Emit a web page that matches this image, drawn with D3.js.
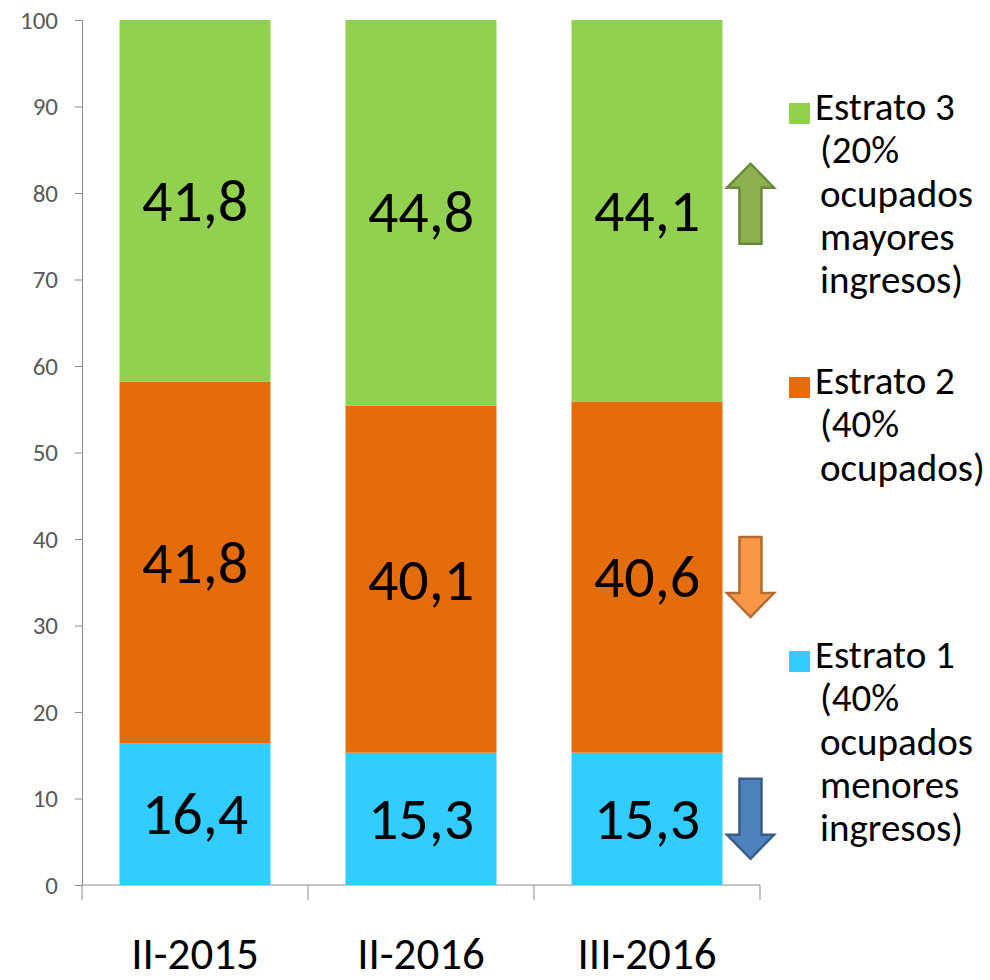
<!DOCTYPE html>
<meta charset="utf-8">
<script src="https://d3js.org/d3.v7.min.js"></script>
<style>
  body { margin: 0; background: #fff; }
  text { font-family: Carlito, Lato, "Open Sans", sans-serif; }
</style>
<div id="chart"></div>
<script>

    // periods on the x axis
    var periods = ["II-2015", "II-2016", "III-2016"];

    // share of each stratum (%)
    var estrato1 = [16.4, 15.3, 15.3];
    var estrato2 = [41.8, 40.1, 40.6];
    var estrato3 = [41.8, 44.8, 44.1];

    var seriesKeys = ["estrato1", "estrato2", "estrato3"];
    var seriesColors = ["#33CCFF", "#E46C0A", "#92D050"];

    // legend, listed top to bottom
    var legendKeys = ["estrato3", "estrato2", "estrato1"];
    var legendLines = [
        ["Estrato 3", "(20%", "ocupados", "mayores", "ingresos)"],
        ["Estrato 2", "(40%", "ocupados)"],
        ["Estrato 1", "(40%", "ocupados", "menores", "ingresos)"]
    ];

    // change arrows next to the last bar
    var arrowDir = ["down", "down", "up"];
    var arrowFill = ["#4F81BD", "#F79646", "#8DB050"];
    var arrowStroke = ["#385D8A", "#B66B2E", "#6A8A3A"];

    var yTicks = [0, 10, 20, 30, 40, 50, 60, 70, 80, 90, 100];

    // build rows for d3.stack
    var rows = periods.map(function(p, i) {
        return {period: p, estrato1: estrato1[i], estrato2: estrato2[i], estrato3: estrato3[i]};
    });

    var margin = {top: 20, right: 230, bottom: 95, left: 82};

    var svg = d3.select("#chart")
        .append("svg")
            .attr("width", 990)
            .attr("height", 980)
        .append("g")
            .attr("transform", "translate(" + margin.left + "," + margin.top + ")");

    var x = d3.scaleBand()
        .domain(periods)
        .range([0, 678])
        .paddingInner(0.332)
        .paddingOuter(0.166);

    var y = d3.scaleLinear()
        .domain([0, 100])
        .range([865, 0])
        .clamp(true);

    var color = d3.scaleOrdinal().domain(seriesKeys).range(seriesColors);

    var stacked = d3.stack().keys(seriesKeys)(rows);

    // y axis
    var yAxis = svg.append("g")
        .attr("font-size", 25)
        .attr("font-family", "Carlito, Lato, 'Open Sans', sans-serif")
        .call(d3.axisLeft(y).tickValues(yTicks).tickSize(7).tickPadding(17));
    yAxis.attr("font-size", 25).attr("font-family", "Carlito, Lato, sans-serif");
    yAxis.select(".domain").attr("stroke", "#8c8c8c");
    yAxis.selectAll(".tick line").attr("stroke", "#8c8c8c");
    yAxis.selectAll(".tick text")
        .style("font-size", "25px")
        .attr("fill", "#595959");

    // x axis with ticks between categories
    var step = x.step();
    var xAxis = svg.append("g")
        .attr("transform", "translate(0," + y(0) + ")");
    xAxis.append("line")
        .attr("x1", 0).attr("x2", step * periods.length)
        .attr("stroke", "#8c8c8c");
    xAxis.selectAll(".xtick")
        .data(d3.range(periods.length + 1))
        .enter()
        .append("line")
            .attr("x1", function(d) { return d * step; })
            .attr("x2", function(d) { return d * step; })
            .attr("y1", 0).attr("y2", 15)
            .attr("stroke", "#8c8c8c");
    xAxis.selectAll(".xlabel")
        .data(periods)
        .enter()
        .append("text")
            .attr("x", function(d) { return x(d) + x.bandwidth() / 2; })
            .attr("y", 84)
            .attr("text-anchor", "middle")
            .style("font-size", "45px")
            .attr("fill", "#000")
            .text(function(d) { return d; });

    // stacked bars
    var layer = svg.selectAll(".layer")
        .data(stacked)
        .enter()
        .append("g")
            .attr("fill", function(d) { return color(d.key); });

    layer.selectAll("rect")
        .data(function(d) { return d; })
        .enter()
        .append("rect")
            .attr("x", function(d) { return x(d.data.period); })
            .attr("y", function(d) { return y(d[1]); })
            .attr("height", function(d) { return y(d[0]) - y(d[1]); })
            .attr("width", x.bandwidth());

    // value labels
    layer.selectAll(".val")
        .data(function(d) { return d.map(function(s) { return {s: s, key: d.key}; }); })
        .enter()
        .append("text")
            .attr("x", function(d) { return x(d.s.data.period) + x.bandwidth() / 2; })
            .attr("y", function(d) { return y((d.s[0] + d.s[1]) / 2); })
            .attr("dy", "0.34em")
            .attr("text-anchor", "middle")
            .attr("fill", "#000")
            .style("font-size", "60px")
            .text(function(d) { return d3.format(".1f")(d.s.data[d.key]).replace(".", ","); });

    // arrows beside last bar, centred on each segment
    var last = periods[periods.length - 1];
    var ax = x(last) + x.bandwidth() + 28;
    var aw = 47, sw = 22, ah = 80, hh = 24;
    stacked.forEach(function(layerData, i) {
        var seg = layerData[layerData.length - 1];
        var cy = y((seg[0] + seg[1]) / 2) - (arrowDir[i] === "up" ? 7 : 0);
        var top = cy - ah / 2, bot = cy + ah / 2, pts;
        if (arrowDir[i] === "up") {
            pts = [[ax, top], [ax + aw / 2, top + hh], [ax + sw / 2, top + hh], [ax + sw / 2, bot],
                   [ax - sw / 2, bot], [ax - sw / 2, top + hh], [ax - aw / 2, top + hh]];
        } else {
            pts = [[ax, bot], [ax + aw / 2, bot - hh], [ax + sw / 2, bot - hh], [ax + sw / 2, top],
                   [ax - sw / 2, top], [ax - sw / 2, bot - hh], [ax - aw / 2, bot - hh]];
        }
        svg.append("path")
            .attr("d", d3.line()(pts) + "Z")
            .attr("fill", arrowFill[i])
            .attr("stroke", arrowStroke[i])
            .attr("stroke-width", 2.5)
            .attr("stroke-linejoin", "miter");
    });

    // legend
    var legend = svg.append("g")
        .attr("transform", "translate(707,0)");

    var entry = legend.selectAll(".entry")
        .data(legendKeys)
        .enter()
        .append("g")
            .attr("transform", function(d, i) { return "translate(0," + (100 + i * 274) + ")"; });

    entry.append("rect")
        .attr("x", 0).attr("y", -17)
        .attr("width", 21).attr("height", 21)
        .attr("fill", function(d) { return color(d); });

    entry.append("text")
        .attr("x", 26)
        .attr("y", 0)
        .attr("fill", "#000")
        .style("font-size", "39px")
        .selectAll("tspan")
        .data(function(d, i) { return legendLines[i]; })
        .enter()
        .append("tspan")
            .attr("x", function(d, i) { return i === 0 ? 26 : 31; })
            .attr("dy", function(d, i) { return i === 0 ? 0 : 43.3; })
            .text(function(d) { return d; });

</script>
